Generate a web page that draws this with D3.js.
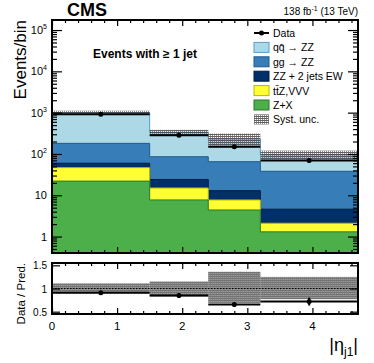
<!DOCTYPE html>
<html>
<head>
<meta charset="utf-8">
<script src="https://cdn.jsdelivr.net/npm/d3@7"></script>
<style>
body { margin: 0; background: #fff; }
svg { font-family: "Liberation Sans", Arial, sans-serif; }
</style>
</head>
<body>
<svg id="chart" width="374" height="363"></svg>
<script>
// bin edges in |eta_j1|
var binEdges = [0, 1.5, 2.4, 3.2, 4.7];

// expected events per bin, one array per process (bottom of the stack first)
var zPlusX  = [22, 7.7, 4.4, 1.3];
var ttzVVV  = [24.6, 7.3, 3.3, 0.8];
var zzEW    = [13, 9.1, 5.2, 2.5];
var ggZZ    = [121, 61.6, 52, 33.4];
var qqZZ    = [819, 249, 165, 58];

// observed data and its stat. error
var dataObs = [910, 284, 150, 69];
var dataErr = [30, 17, 12, 8.3];

// relative systematic uncertainty on the prediction
var systUp   = [0.11, 0.15, 0.36, 0.25];
var systDown = [0.10, 0.17, 0.31, 0.23];

// tick labels
var yTicks = [1, 10, 1e2, 1e3, 1e4, 1e5];
var ratioTicks = [0.5, 1, 1.5];
var xTicks = [0, 1, 2, 3, 4];

var processes = [
    {key: "zx",  label: "Z+X",              fill: "#4daf4a", line: "#2b7a2a", values: zPlusX},
    {key: "ttz", label: "tt\u0304Z,VVV",    fill: "#ffff33", line: "#b8b800", values: ttzVVV},
    {key: "ew",  label: "ZZ + 2 jets EW",   fill: "#00306a", line: "#001c40", values: zzEW},
    {key: "gg",  label: "gg \u2192 ZZ",     fill: "#377eb8", line: "#1e5a8e", values: ggZZ},
    {key: "qq",  label: "qq\u0304 \u2192 ZZ", fill: "#add8e6", line: "#5b9cc9", values: qqZZ}
];

var svg = d3.select("#chart");
var L = 52, R = 358, mT = 20, mB = 253, rT = 263, rB = 314;

var x = d3.scaleLinear().domain([0, 4.7]).range([L, R]);
var y = d3.scaleLog().domain([0.4, 1.75e5]).range([mB, mT]);
var yr = d3.scaleLinear().domain([0.45, 1.55]).range([rB, rT]);

var defs = svg.append("defs");
defs.append("clipPath").attr("id", "clipMain")
    .append("rect").attr("x", L).attr("y", mT).attr("width", R - L).attr("height", mB - mT);
defs.append("clipPath").attr("id", "clipRatio")
    .append("rect").attr("x", L).attr("y", rT).attr("width", R - L).attr("height", rB - rT);

//hatch for the syst. band
var pat = defs.append("pattern").attr("id", "hatch")
    .attr("width", 2).attr("height", 2).attr("patternUnits", "userSpaceOnUse");
pat.append("rect").attr("width", 2).attr("height", 1).attr("fill", "#3a3a3a").attr("fill-opacity", 0.8);
pat.append("rect").attr("x", 0).attr("y", 1).attr("width", 1).attr("height", 1).attr("fill", "#6a6a6a").attr("fill-opacity", 0.75);

// stack table
var rows = binEdges.slice(0, -1).map(function (e, i) {
    var r = {i: i};
    processes.forEach(function (p) { r[p.key] = p.values[i]; });
    return r;
});
var stacked = d3.stack().keys(processes.map(function (p) { return p.key; }))(rows);
var total = rows.map(function (r, i) { return stacked[stacked.length - 1][i][1]; });

var main = svg.append("g").attr("clip-path", "url(#clipMain)");

function stepPath(tops) {
    var pts = [[x(binEdges[0]), mB + 2]];
    tops.forEach(function (t, i) {
        pts.push([x(binEdges[i]), y(t)]);
        pts.push([x(binEdges[i + 1]), y(t)]);
    });
    pts.push([x(binEdges[binEdges.length - 1]), mB + 2]);
    return d3.line()(pts);
}

// draw cumulative histograms, largest first (ROOT THStack style)
for (var k = stacked.length - 1; k >= 0; k--) {
    var tops = stacked[k].map(function (d) { return d[1]; });
    main.append("path")
        .attr("d", stepPath(tops))
        .attr("fill", processes[k].fill)
        .attr("stroke", processes[k].line)
        .attr("stroke-width", 1);
}

// syst band
main.selectAll("rect.syst").data(total).enter().append("rect")
    .attr("class", "syst")
    .attr("x", function (d, i) { return x(binEdges[i]); })
    .attr("width", function (d, i) { return x(binEdges[i + 1]) - x(binEdges[i]); })
    .attr("y", function (d, i) { return y(d * (1 + systUp[i])); })
    .attr("height", function (d, i) { return y(d * (1 - systDown[i])) - y(d * (1 + systUp[i])); })
    .attr("fill", "url(#hatch)");

// data
var dataG = main.append("g");
dataObs.forEach(function (v, i) {
    var cx = x((binEdges[i] + binEdges[i + 1]) / 2);
    dataG.append("line")
        .attr("x1", x(binEdges[i])).attr("x2", x(binEdges[i + 1]))
        .attr("y1", y(v)).attr("y2", y(v))
        .attr("stroke", "#000").attr("stroke-width", 2);
    dataG.append("line")
        .attr("x1", cx).attr("x2", cx)
        .attr("y1", y(v + dataErr[i])).attr("y2", y(v - dataErr[i]))
        .attr("stroke", "#000").attr("stroke-width", 2);
    dataG.append("circle").attr("cx", cx).attr("cy", y(v)).attr("r", 2.5).attr("fill", "#000");
});

// ratio panel
var ratioG = svg.append("g").attr("clip-path", "url(#clipRatio)");
ratioG.selectAll("rect.rsyst").data(total).enter().append("rect")
    .attr("class", "rsyst")
    .attr("x", function (d, i) { return x(binEdges[i]); })
    .attr("width", function (d, i) { return x(binEdges[i + 1]) - x(binEdges[i]); })
    .attr("y", function (d, i) { return yr(1 + systUp[i]); })
    .attr("height", function (d, i) { return yr(1 - systDown[i]) - yr(1 + systUp[i]); })
    .attr("fill", "#9a9a9a");
ratioG.selectAll("rect.rsyst2").data(total).enter().append("rect")
    .attr("x", function (d, i) { return x(binEdges[i]); })
    .attr("width", function (d, i) { return x(binEdges[i + 1]) - x(binEdges[i]); })
    .attr("y", function (d, i) { return yr(1 + systUp[i]); })
    .attr("height", function (d, i) { return yr(1 - systDown[i]) - yr(1 + systUp[i]); })
    .attr("fill", "url(#hatch)").attr("opacity", 0.5);
ratioG.append("line")
    .attr("x1", L).attr("x2", R).attr("y1", yr(1)).attr("y2", yr(1))
    .attr("stroke", "#000").attr("stroke-width", 1).attr("stroke-dasharray", "1.5,1.5");

dataObs.forEach(function (v, i) {
    var r = v / total[i];
    var e = dataErr[i] / total[i];
    var cx = x((binEdges[i] + binEdges[i + 1]) / 2);
    ratioG.append("line")
        .attr("x1", x(binEdges[i])).attr("x2", x(binEdges[i + 1]))
        .attr("y1", yr(r)).attr("y2", yr(r))
        .attr("stroke", "#000").attr("stroke-width", 2);
    ratioG.append("line")
        .attr("x1", cx).attr("x2", cx)
        .attr("y1", yr(r + e)).attr("y2", yr(r - e))
        .attr("stroke", "#000").attr("stroke-width", 2);
    ratioG.append("circle").attr("cx", cx).attr("cy", yr(r)).attr("r", 2.5).attr("fill", "#000");
});

// ticks (ROOT style, inward on all four sides)
function tickAxis(axis, tx, ty) {
    var g = svg.append("g").attr("transform", "translate(" + tx + "," + ty + ")").call(axis);
    g.select(".domain").remove();
    g.selectAll("line").attr("stroke", "#000").attr("stroke-width", 1.2);
    g.selectAll("text").remove();
    return g;
}
var yMinor = [];
[0.1, 1, 10, 100, 1000, 10000, 100000].forEach(function (d) {
    for (var m = 2; m <= 9; m++) if (d * m > 0.4 && d * m < 1.75e5) yMinor.push(d * m);
});
tickAxis(d3.axisRight(y).tickValues(yTicks).tickSize(10), L, 0);
tickAxis(d3.axisRight(y).tickValues(yMinor).tickSize(5), L, 0);
tickAxis(d3.axisLeft(y).tickValues(yTicks).tickSize(10), R, 0);
tickAxis(d3.axisLeft(y).tickValues(yMinor).tickSize(5), R, 0);

var xMinor = d3.range(0, 4.71, 0.2).filter(function (d) { return Math.abs(d - Math.round(d)) > 0.01; });
[mB, rB].forEach(function (yy) {
    tickAxis(d3.axisTop(x).tickValues(xTicks).tickSize(6), 0, yy);
    tickAxis(d3.axisTop(x).tickValues(xMinor).tickSize(3), 0, yy);
});
[mT, rT].forEach(function (yy) {
    tickAxis(d3.axisBottom(x).tickValues(xTicks).tickSize(6), 0, yy);
    tickAxis(d3.axisBottom(x).tickValues(xMinor).tickSize(3), 0, yy);
});
tickAxis(d3.axisRight(yr).tickValues(ratioTicks).tickSize(8), L, 0);
tickAxis(d3.axisLeft(yr).tickValues(ratioTicks).tickSize(8), R, 0);

// frames
[[mT, mB], [rT, rB]].forEach(function (f) {
    svg.append("rect").attr("x", L).attr("y", f[0]).attr("width", R - L).attr("height", f[1] - f[0])
        .attr("fill", "none").attr("stroke", "#000").attr("stroke-width", 2);
});

// y tick labels (log)
yTicks.forEach(function (v) {
    var p = Math.round(Math.log10(v));
    var t = svg.append("text").attr("x", 47).attr("y", y(v) + 4)
        .attr("text-anchor", "end").attr("font-size", 11);
    if (p === 0) t.text("1");
    else if (p === 1) t.text("10");
    else {
        t.append("tspan").text("10");
        t.append("tspan").attr("font-size", 7).attr("dy", -5).text(p);
    }
});
ratioTicks.forEach(function (v) {
    svg.append("text").attr("x", 47).attr("y", yr(v) + 4)
        .attr("text-anchor", "end").attr("font-size", 10).text(v);
});
xTicks.forEach(function (v) {
    svg.append("text").attr("x", x(v)).attr("y", 330)
        .attr("text-anchor", "middle").attr("font-size", 11.5).text(v);
});

// axis titles
svg.append("text").attr("transform", "translate(26,20) rotate(-90)")
    .attr("text-anchor", "end").attr("font-size", 17).text("Events/bin");
svg.append("text").attr("transform", "translate(25,263) rotate(-90)")
    .attr("text-anchor", "end").attr("font-size", 11.5).text("Data / Pred.");
var xt = svg.append("text").attr("x", 358).attr("y", 351).attr("text-anchor", "end").attr("font-size", 18);
xt.append("tspan").text("|\u03b7");
xt.append("tspan").attr("font-size", 12).attr("dy", 5).text("j1");
xt.append("tspan").attr("dy", -5).text("|");

// header
svg.append("text").attr("x", 67).attr("y", 16).attr("font-size", 18).attr("font-weight", "bold").text("CMS");
var lumi = svg.append("text").attr("x", 358).attr("y", 15).attr("text-anchor", "end").attr("font-size", 10);
lumi.append("tspan").text("138 fb");
lumi.append("tspan").attr("font-size", 7).attr("dy", -4).text("-1");
lumi.append("tspan").attr("dy", 4).text(" (13 TeV)");

svg.append("text").attr("x", 93).attr("y", 58).attr("font-size", 12).attr("font-weight", "bold")
    .text("Events with \u2265 1 jet");

// legend
var legX = 254, legY0 = 33, legDy = 14.4;
var leg = svg.append("g").attr("font-size", 10.5);
leg.append("line").attr("x1", legX).attr("x2", legX + 15).attr("y1", legY0).attr("y2", legY0)
    .attr("stroke", "#000").attr("stroke-width", 2);
leg.append("circle").attr("cx", legX + 7.5).attr("cy", legY0).attr("r", 2.5).attr("fill", "#000");
leg.append("text").attr("x", legX + 19).attr("y", legY0 + 4).text("Data");
var legOrder = processes.slice().reverse();
legOrder.forEach(function (p, i) {
    var yy = legY0 + (i + 1) * legDy;
    leg.append("rect").attr("x", legX).attr("y", yy - 5).attr("width", 15).attr("height", 10)
        .attr("fill", p.fill).attr("stroke", p.line).attr("stroke-width", 1);
    leg.append("text").attr("x", legX + 19).attr("y", yy + 4).text(p.label);
});
var ys = legY0 + 6 * legDy;
leg.append("rect").attr("x", legX).attr("y", ys - 5).attr("width", 15).attr("height", 10)
    .attr("fill", "url(#hatch)");
leg.append("text").attr("x", legX + 19).attr("y", ys + 4).text("Syst. unc.");
</script>
</body>
</html>
